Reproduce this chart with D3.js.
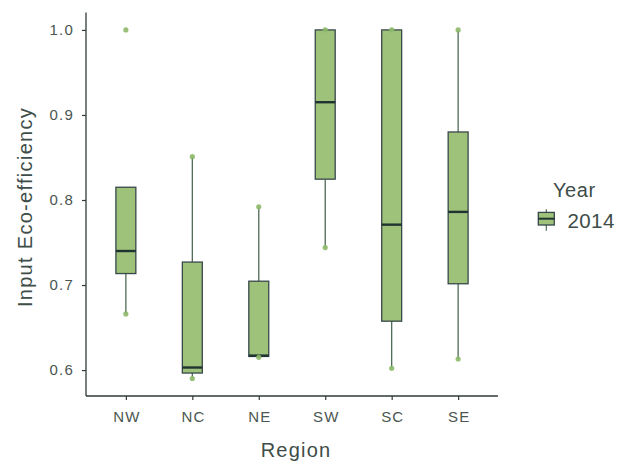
<!DOCTYPE html>
<html><head><meta charset="utf-8">
<script src="https://cdn.jsdelivr.net/npm/d3@7"></script>
<style>body{margin:0;background:#fff}svg{display:block}text{font-family:"Liberation Sans",Arial,sans-serif}</style>
</head><body><svg id="c" width="630" height="462"></svg>
<script>
const regions = ["NW","NC","NE","SW","SC","SE"];
const lowWhisker = [0.666,0.590,0.615,0.744,0.602,0.613];
const q1 =        [0.7135,0.5965,0.616,0.8245,0.6575,0.7015];
const median =    [0.740,0.603,0.617,0.915,0.771,0.786];
const q3 =        [0.815,0.727,0.7045,1.000,1.000,0.880];
const highWhisker=[0.815,0.851,0.792,1.000,1.000,1.000];
const dataMin =   [0.666,0.590,0.615,0.744,0.602,0.613];
const dataMax =   [1.000,0.851,0.792,1.000,1.000,1.000];
const yTicks = [0.6,0.7,0.8,0.9,1.0];
const legendTitle = "Year", legendLabel = "2014";

const svg = d3.select("#c");
const L=86, R=498, T=12.5, B=396;
const fill="#9fc27b", stroke="#37474a", dot="#8db96a", axisCol="#2f3d36", txt="#4a5651", titleCol="#3e4d48";

const x = d3.scalePoint().domain(regions).range([L,R]).padding(0.6);
const y = d3.scaleLinear().domain([0.5695,1.0205]).range([B,T]);
const bw = 0.3*x.step();

// axes
const ya = svg.append("g").attr("transform",`translate(${L},0)`)
  .call(d3.axisLeft(y).tickValues(yTicks).tickFormat(d3.format(".1f")).tickSize(4).tickPadding(8));
const xa = svg.append("g").attr("transform",`translate(0,${B})`)
  .call(d3.axisBottom(x).tickSize(4).tickPadding(11));
[ya,xa].forEach(g=>{
  g.select(".domain").remove();
  g.selectAll(".tick line").attr("stroke",axisCol).attr("stroke-width",1.2);
  g.selectAll(".tick text").attr("fill",txt).style("font-size","15px").style("letter-spacing","1.2px");
});
xa.selectAll(".tick text").attr("dx","0.6px");
svg.append("line").attr("x1",L).attr("x2",L).attr("y1",T).attr("y2",B).attr("stroke",axisCol).attr("stroke-width",1.3);
svg.append("line").attr("x1",L).attr("x2",R).attr("y1",B).attr("y2",B).attr("stroke",axisCol).attr("stroke-width",1.3);

const idx = d3.range(regions.length);
const g = svg.append("g");
// whiskers
g.selectAll(".wl").data(idx).join("line")
  .attr("x1",i=>x(regions[i])).attr("x2",i=>x(regions[i]))
  .attr("y1",i=>y(lowWhisker[i])).attr("y2",i=>y(q1[i]))
  .attr("stroke","#4f6a55").attr("stroke-width",1.3);
g.selectAll(".wh").data(idx).join("line")
  .attr("x1",i=>x(regions[i])).attr("x2",i=>x(regions[i]))
  .attr("y1",i=>y(highWhisker[i])).attr("y2",i=>y(q3[i]))
  .attr("stroke","#4f6a55").attr("stroke-width",1.3);
// boxes
g.selectAll("rect").data(idx).join("rect")
  .attr("x",i=>x(regions[i])-bw/2).attr("width",bw)
  .attr("y",i=>y(q3[i])).attr("height",i=>y(q1[i])-y(q3[i]))
  .attr("fill",fill).attr("stroke",stroke).attr("stroke-width",1.3);
g.selectAll(".med").data(idx).join("line")
  .attr("x1",i=>x(regions[i])-bw/2).attr("x2",i=>x(regions[i])+bw/2)
  .attr("y1",i=>y(median[i])).attr("y2",i=>y(median[i]))
  .attr("stroke","#1f3330").attr("stroke-width",2.4);
// points at data min / max
const pts=[];
idx.forEach(i=>{ pts.push([i,dataMin[i]]); pts.push([i,dataMax[i]]); });
g.selectAll("circle").data(pts).join("circle")
  .attr("cx",d=>x(regions[d[0]])).attr("cy",d=>y(d[1])).attr("r",2.6)
  .attr("fill",dot).attr("opacity",0.9);

// titles
svg.append("text").attr("x",296).attr("y",457).attr("text-anchor","middle")
  .attr("fill",titleCol).style("font-size","20px").style("letter-spacing","1.2px").text("Region");
svg.append("text").attr("transform","translate(32,207) rotate(-90)").attr("text-anchor","middle")
  .attr("fill",titleCol).style("font-size","20px").style("letter-spacing","1.3px").text("Input Eco-efficiency");

// legend
svg.append("text").attr("x",553).attr("y",196.5).attr("fill",titleCol).style("font-size","20px").style("letter-spacing","0.6px").text(legendTitle);
const lx=546.3, ly=218.7;
svg.append("line").attr("x1",lx).attr("x2",lx).attr("y1",ly-9.5).attr("y2",ly+12).attr("stroke","#4f6a55").attr("stroke-width",1.2);
svg.append("rect").attr("x",lx-8).attr("y",ly-6.3).attr("width",16).attr("height",12.6).attr("fill",fill).attr("stroke",stroke).attr("stroke-width",1.3);
svg.append("line").attr("x1",lx-8).attr("x2",lx+8).attr("y1",ly).attr("y2",ly).attr("stroke","#1f3330").attr("stroke-width",2);
svg.append("text").attr("x",567.5).attr("y",228.3).attr("fill",titleCol).style("font-size","20.5px").style("letter-spacing","0.4px").text(legendLabel);
</script></body></html>
